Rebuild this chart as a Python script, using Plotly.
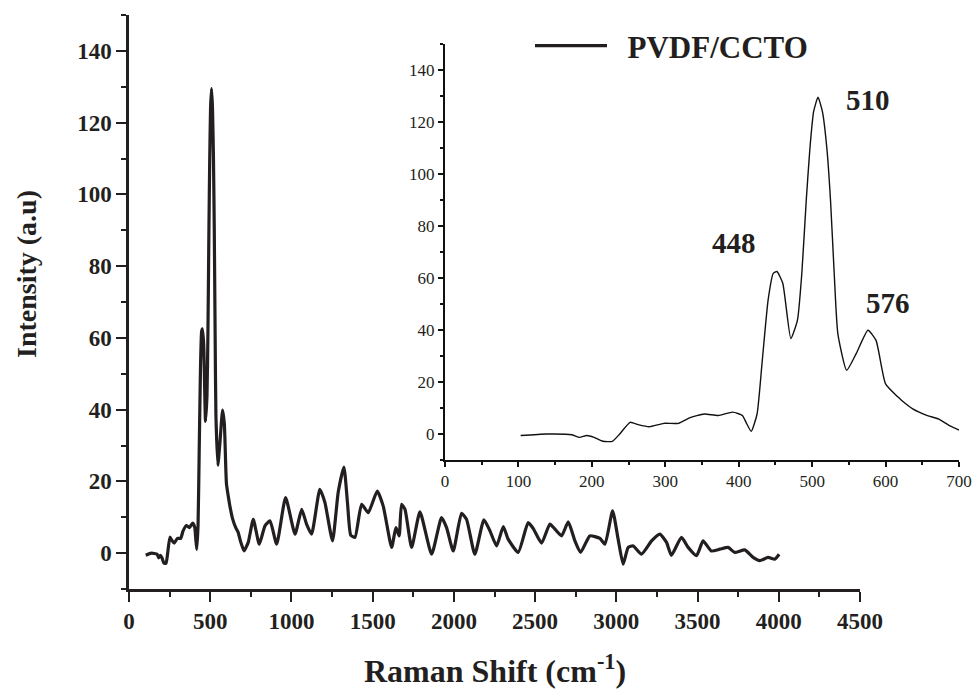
import plotly.graph_objects as go

# Raman spectrum of PVDF/CCTO
shift = [103, 138, 173, 183, 193, 203, 215, 228, 238, 252, 263, 278, 298, 318, 333, 353, 372, 392,
         405, 410, 417, 425, 432, 440, 447, 452, 460, 471, 480, 486, 492, 497, 502, 508, 514, 520, 525,
         530, 535, 547, 560, 576, 587, 600, 617, 622, 637, 657, 672, 687, 700,
         708, 734, 765, 802, 837, 868, 909, 964, 1022, 1063, 1093, 1124, 1175, 1206, 1253, 1288,
         1323, 1345, 1365, 1391, 1432, 1473, 1528, 1565, 1617, 1643, 1663, 1678, 1699, 1740, 1791,
         1863, 1924, 1955, 1996, 2047, 2078, 2129, 2185, 2222, 2263, 2304, 2334, 2396, 2457, 2488,
         2540, 2591, 2622, 2663, 2704, 2745, 2780, 2837, 2899, 2930, 2977, 3011, 3042, 3073, 3104,
         3155, 3217, 3268, 3309, 3339, 3401, 3442, 3494, 3534, 3585, 3637, 3688, 3729, 3791, 3842,
         3883, 3934, 3975, 4002]
intensity = [-0.6, 0.0, -0.3, -1.3, -0.6, -1.3, -2.8, -2.8, 0.0, 4.5, 3.6, 2.8, 4.1, 4.1, 6.2, 7.7, 7.1, 8.4,
             7.1, 4.5, 1.0, 7.7, 28.0, 51.5, 61.8, 62.5, 58.0, 36.7, 43.8, 62.0, 90.0, 110.0, 124.0, 129.5, 124.0, 110.0, 90.0,
             62.0, 38.6, 24.5, 30.9, 39.9, 36.0, 19.3, 14.2, 12.9, 9.7, 7.1, 5.8, 3.2, 1.5,
             0.6, 3.0, 9.4, 2.5, 7.6, 9.0, 2.5, 15.5, 5.3, 12.2, 8.1, 5.3, 17.8, 14.1, 3.4, 17.0,
             24.0, 14.0, 5.0, 4.4, 13.6, 11.3, 17.3, 13.1, 1.6, 7.1, 4.8, 13.6, 12.2, 1.6, 11.5,
             -0.3, 9.9, 7.1, 0.6, 11.1, 9.4, -0.3, 9.3, 6.2, 2.0, 7.4, 3.9, 0.2, 8.5, 6.9,
             2.8, 8.1, 6.7, 4.8, 8.7, 3.4, 0.2, 4.8, 4.1, 2.5, 11.8, 3.9, -3.1, 1.6, 2.0,
             -0.3, 3.4, 5.3, 3.0, -0.6, 4.4, 1.6, -0.7, 3.4, 0.6, 1.1, 1.6, 0.2, 0.9, -1.2,
             -2.1, -1.2, -1.7, -0.3]

inset_limit = 700
inset_shift = [s for s in shift if s <= inset_limit]
inset_intensity = [v for s, v in zip(shift, intensity) if s <= inset_limit]

peak_labels = ["448", "510", "576"]
peak_label_x = [394, 576, 603]
peak_label_y = [73.4, 128.6, 50.2]

series_name = "PVDF/CCTO"
INK = "#231f20"
FONT = "Liberation Serif"

fig = go.Figure()
fig.add_trace(go.Scatter(x=shift, y=intensity, mode="lines", name="\u00a0\u00a0" + series_name,
                         line=dict(color=INK, width=3.2, shape="spline", smoothing=0.5),
                         xaxis="x", yaxis="y", showlegend=True))
fig.add_trace(go.Scatter(x=inset_shift, y=inset_intensity, mode="lines", name=series_name,
                         line=dict(color="#111111", width=1.4, shape="spline", smoothing=0.5),
                         xaxis="x2", yaxis="y2", showlegend=False))

for t, xv, yv in zip(peak_labels, peak_label_x, peak_label_y):
    fig.add_annotation(x=xv, y=yv, xref="x2", yref="y2", text="<b>%s</b>" % t, showarrow=False,
                       font=dict(family=FONT, size=29, color=INK))

fig.add_annotation(x=26 / 974, y=1 - 274 / 690, xref="paper", yref="paper", text="<b>Intensity (a.u)</b>",
                   xanchor="center", yanchor="middle",
                   textangle=-90, showarrow=False, font=dict(family=FONT, size=28, color=INK))
fig.add_annotation(x=495 / 974, y=1 - 669 / 690, xref="paper", yref="paper",
                   xanchor="center", yanchor="middle",
                   text="<b>Raman Shift (cm<sup>-1</sup>)</b>", showarrow=False,
                   font=dict(family=FONT, size=32, color=INK))

main_axis = dict(showline=True, linecolor=INK, linewidth=2.5, ticks="outside", tickcolor=INK,
                 tickwidth=2, ticklen=10, showgrid=False, zeroline=False, automargin=False,
                 tickfont=dict(family=FONT, size=23, color=INK, weight="bold"))
inset_axis = dict(showline=True, linecolor="#111111", linewidth=2, ticks="outside", tickcolor="#111111",
                  tickwidth=1.5, ticklen=5, showgrid=False, zeroline=False, automargin=False,
                  tickfont=dict(family=FONT, size=17, color=INK))

fig.update_layout(
    width=974, height=690,
    margin=dict(l=0, r=0, t=0, b=0, autoexpand=False),
    paper_bgcolor="white", plot_bgcolor="rgba(0,0,0,0)",
    xaxis=dict(domain=[129 / 974, 860 / 974], range=[0, 4500], tick0=0, dtick=500,
               minor=dict(dtick=250, ticks="outside", ticklen=5, tickcolor=INK, tickwidth=2),
               anchor="y", **main_axis),
    yaxis=dict(domain=[1 - 589 / 690, 1 - 15 / 690], range=[-10, 150], tick0=0, dtick=20,
               minor=dict(dtick=10, ticks="outside", ticklen=5, tickcolor=INK, tickwidth=2),
               anchor="x", **main_axis),
    xaxis2=dict(domain=[445 / 974, 959 / 974], range=[0, 700], tick0=0, dtick=100,
                minor=dict(dtick=50, ticks="outside", ticklen=3, tickcolor="#111111", tickwidth=1.5),
                anchor="y2", **inset_axis),
    yaxis2=dict(domain=[1 - 460 / 690, 1 - 44 / 690], range=[-10, 150], tick0=0, dtick=20,
                minor=dict(dtick=10, ticks="outside", ticklen=3, tickcolor="#111111", tickwidth=1.5),
                anchor="x2", **inset_axis),
    showlegend=True,
    legend=dict(x=530 / 974, y=1 - 46 / 690, xanchor="left", yanchor="middle",
                bgcolor="rgba(0,0,0,0)", itemwidth=72,
                font=dict(family=FONT, size=31, color=INK, weight="bold")),
)

fig.write_html("out.html", config={"displayModeBar": False},
               post_script="document.body.style.margin='0';")
